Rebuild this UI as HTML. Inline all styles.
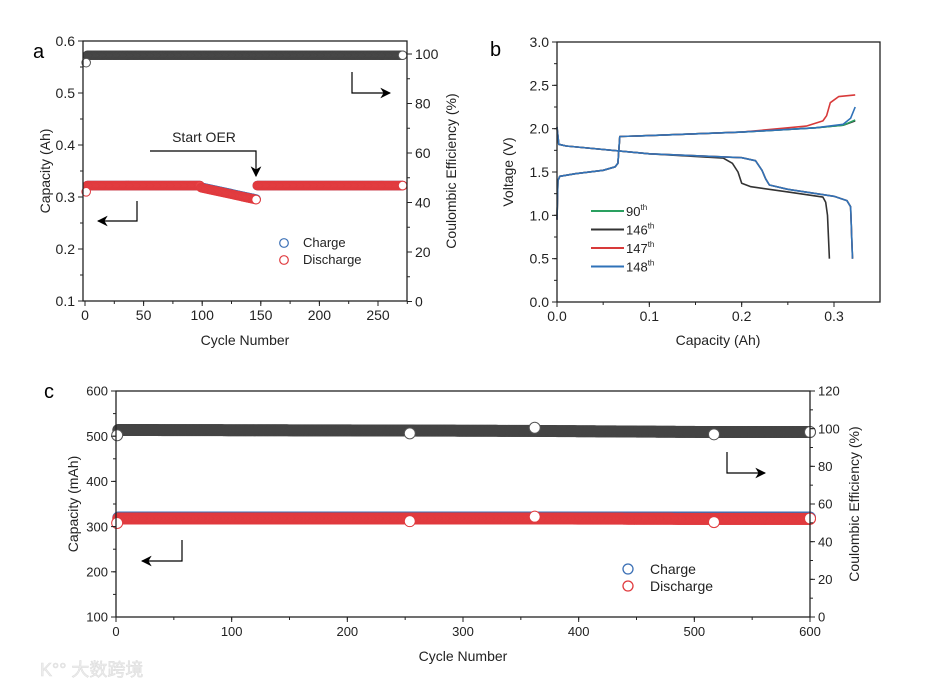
<!DOCTYPE html>
<html><head><meta charset="utf-8">
<style>
html,body{margin:0;padding:0;background:#fff;}
svg{display:block;font-family:"Liberation Sans","Noto Sans CJK SC",sans-serif;}
</style></head>
<body>
<svg id="fig" width="945" height="689" viewBox="0 0 945 689" xmlns="http://www.w3.org/2000/svg">
<defs>
<marker id="ah" viewBox="0 0 10 10" refX="9" refY="5" markerWidth="9" markerHeight="9" orient="auto"><path d="M0,0 L10,5 L0,10 L3,5 z" fill="#000"/></marker>
</defs>
<g id="pa"></g>
<g id="pb"></g>
<g id="pc"></g>
<text x="33" y="58" font-size="20">a</text>
<text x="490" y="56" font-size="20">b</text>
<text x="44" y="398" font-size="20">c</text>
<text x="40" y="676" font-size="18" fill="#eeeeee" stroke="#dddddd" stroke-width="0.6">K°° 大数跨境</text>
</svg>
<script>
// ---------- Panel A data ----------
const aCapCycles = [1, 2, 98, 99, 146, 147, 271];
const aDischarge = [0.310, 0.322, 0.322, 0.318, 0.295, 0.322, 0.322];
const aCharge    = [0.322, 0.322, 0.322, 0.319, 0.296, 0.322, 0.322];
const aCECycles  = [1, 2, 271];
const aCE        = [96.5, 99.5, 99.5];
const aXTicks = [0, 50, 100, 150, 200, 250];
const aYTicks = [0.1, 0.2, 0.3, 0.4, 0.5, 0.6];
const aY2Ticks = [0, 20, 40, 60, 80, 100];
// ---------- Panel B data ----------
const bXTicks = [0.0, 0.1, 0.2, 0.3];
const bYTicks = [0.0, 0.5, 1.0, 1.5, 2.0, 2.5, 3.0];
const chgCap  = [0, 0.001, 0.003, 0.02, 0.05, 0.063, 0.066, 0.068, 0.1, 0.2, 0.28, 0.31, 0.323];
const chg90V  = [0.95, 1.40, 1.45, 1.48, 1.52, 1.56, 1.60, 1.91, 1.92, 1.96, 2.01, 2.04, 2.10];
const chg146V = [0.95, 1.40, 1.45, 1.48, 1.52, 1.56, 1.60, 1.91, 1.92, 1.96, 2.01, 2.04, 2.09];
const chg147Cap = [0, 0.001, 0.003, 0.02, 0.05, 0.063, 0.066, 0.068, 0.1, 0.2, 0.27, 0.288, 0.292, 0.296, 0.305, 0.323];
const chg147V   = [0.95, 1.40, 1.45, 1.48, 1.52, 1.56, 1.60, 1.91, 1.92, 1.96, 2.03, 2.09, 2.15, 2.30, 2.37, 2.39];
const chg148Cap = [0, 0.001, 0.003, 0.02, 0.05, 0.063, 0.066, 0.068, 0.1, 0.2, 0.28, 0.31, 0.318, 0.323];
const chg148V   = [0.95, 1.40, 1.45, 1.48, 1.52, 1.56, 1.60, 1.91, 1.92, 1.96, 2.01, 2.05, 2.12, 2.25];
const disCap  = [0, 0.002, 0.01, 0.1, 0.2, 0.215, 0.222, 0.226, 0.23, 0.25, 0.3, 0.314, 0.318, 0.32];
const disV    = [2.02, 1.82, 1.80, 1.71, 1.665, 1.63, 1.52, 1.42, 1.35, 1.30, 1.22, 1.17, 1.10, 0.50];
const dis146Cap = [0, 0.002, 0.01, 0.1, 0.18, 0.19, 0.196, 0.2, 0.21, 0.25, 0.288, 0.291, 0.293, 0.295];
const dis146V   = [2.00, 1.82, 1.80, 1.71, 1.66, 1.60, 1.50, 1.37, 1.33, 1.27, 1.21, 1.15, 1.00, 0.50];
// ---------- Panel C data ----------
const cCycles    = [1, 2, 254, 362, 517, 600];
const cDischarge = [308, 318, 318, 318, 317, 317];
const cCharge    = [320, 320, 320, 320, 320, 320];
const cCE        = [96.5, 99.3, 99.0, 98.8, 98.2, 98.2];
const cOutCycles = [1, 254, 362, 517, 600];
const cOutCE     = [96.5, 97.5, 100.5, 97.0, 98.2];
const cOutCap    = [308, 312, 322, 310, 318];
const cXTicks = [0, 100, 200, 300, 400, 500, 600];
const cYTicks = [100, 200, 300, 400, 500, 600];
const cY2Ticks = [0, 20, 40, 60, 80, 100, 120];

const NS = "http://www.w3.org/2000/svg";
function mk(parent, tag, attrs) {
  const e = document.createElementNS(NS, tag);
  for (const k in attrs) e.setAttribute(k, attrs[k]);
  parent.appendChild(e);
  return e;
}
function interp(xs, ys, x) {
  for (let i = 0; i < xs.length - 1; i++) {
    if (x >= xs[i] && x <= xs[i + 1]) {
      const t = xs[i + 1] === xs[i] ? 0 : (x - xs[i]) / (xs[i + 1] - xs[i]);
      return ys[i] + t * (ys[i + 1] - ys[i]);
    }
  }
  return ys[ys.length - 1];
}
function lin(d0, d1, p0, p1) { return v => p0 + (v - d0) / (d1 - d0) * (p1 - p0); }

function frame(g, x0, y0, x1, y1, name) {
  const r = mk(g, 'rect', {x: x0, y: y0, width: x1 - x0, height: y1 - y0, fill: 'none', stroke: '#222', 'stroke-width': 1.3});
  
  
}
function xAxis(g, ticks, minorStep, sx, y, fmt, fs, name) {
  const ax = mk(g, 'g', {});
  
  
  const lo = ticks[0], hi = ticks[ticks.length - 1];
  for (let v = lo; v <= hi + 1e-9 + minorStep; v += minorStep) {
    const px = sx(v);
    if (px > sx(hi) + 30) break;
    mk(ax, 'line', {x1: px, y1: y, x2: px, y2: y + 3, stroke: '#222', 'stroke-width': 1});
  }
  ticks.forEach(t => {
    mk(ax, 'line', {x1: sx(t), y1: y, x2: sx(t), y2: y + 5, stroke: '#222', 'stroke-width': 1});
    const tx = mk(ax, 'text', {x: sx(t), y: y + 19, 'font-size': fs, 'text-anchor': 'middle', fill: '#222'});
    tx.textContent = fmt(t);
  });
}
function yAxis(g, ticks, minorStep, sy, x, dir, fmt, fs, name) {
  const ax = mk(g, 'g', {});
  
  
  const lo = ticks[0], hi = ticks[ticks.length - 1];
  for (let v = lo; v <= hi + 1e-9; v += minorStep) {
    mk(ax, 'line', {x1: x, y1: sy(v), x2: x + dir * 3, y2: sy(v), stroke: '#222', 'stroke-width': 1});
  }
  ticks.forEach(t => {
    mk(ax, 'line', {x1: x, y1: sy(t), x2: x + dir * 5, y2: sy(t), stroke: '#222', 'stroke-width': 1});
    const tx = mk(ax, 'text', {x: x + dir * 8, y: sy(t) + fs * 0.36, 'font-size': fs, 'text-anchor': dir < 0 ? 'end' : 'start', fill: '#222'});
    tx.textContent = fmt(t);
  });
}
function label(g, x, y, txt, fs, rot, name, extra) {
  const t = mk(g, 'text', Object.assign({x: x, y: y, 'font-size': fs, 'text-anchor': 'middle', fill: '#222'}, extra || {}));
  if (rot) t.setAttribute('transform', `rotate(${rot} ${x} ${y})`);
  t.textContent = txt;
  
  
}
function arrow(g, pts, name) {
  const p = mk(g, 'polyline', {points: pts.map(q => q.join(',')).join(' '), fill: 'none', stroke: '#000', 'stroke-width': 1.2, 'marker-end': 'url(#ah)'});
  
  
}
function markerRow(g, n0, n1, xs, ys, sx, sy, r, stroke, fill, name) {
  const s = mk(g, 'g', {});
  
  
  for (let c = n0; c <= n1; c++) {
    const v = interp(xs, ys, c);
    mk(s, 'circle', {cx: sx(c), cy: sy(v), r: r, fill: fill, stroke: stroke, 'stroke-width': 1});
  }
  return s;
}

// ===== Panel A =====
(function () {
  const g = document.getElementById('pa');
  const X0 = 83, X1 = 407, Y0 = 41, Y1 = 301;
  const sx = lin(0, 250, 85, 378);
  const sy = lin(0.1, 0.6, Y1, Y0);
  const sy2 = lin(0, 100, 301.5, 54);
  markerRow(g, 2, 271, aCECycles, aCE, sx, sy2, 4.3, '#444', '#555', 'ce-series-a');
  markerRow(g, 2, 271, aCapCycles, aCharge, sx, sy, 4.3, '#3a6fb5', '#3a6fb5', 'charge-series-a');
  markerRow(g, 2, 271, aCapCycles, aDischarge, sx, sy, 4.3, '#e03a3e', '#e8474a', 'discharge-series-a');
  const ends = mk(g, 'g', {});
  
  
  mk(ends, 'circle', {cx: sx(aCECycles[0]), cy: sy2(aCE[0]), r: 4.3, fill: '#fff', stroke: '#555'});
  mk(ends, 'circle', {cx: sx(271), cy: sy2(aCE[aCE.length - 1]), r: 4.3, fill: '#fff', stroke: '#555'});
  mk(ends, 'circle', {cx: sx(aCapCycles[0]), cy: sy(aDischarge[0]), r: 4.3, fill: '#fff', stroke: '#e03a3e'});
  mk(ends, 'circle', {cx: sx(146), cy: sy(aDischarge[4]), r: 4.3, fill: '#fff', stroke: '#e03a3e'});
  mk(ends, 'circle', {cx: sx(271), cy: sy(aDischarge[6]), r: 4.3, fill: '#fff', stroke: '#e03a3e'});
  frame(g, X0, Y0, X1, Y1, 'plot-frame-a');
  xAxis(g, aXTicks, 25, sx, Y1, t => String(t), 14, 'x-axis-a');
  yAxis(g, aYTicks, 0.05, sy, X0, -1, t => t.toFixed(1), 14, 'y-axis-a');
  yAxis(g, aY2Ticks, 10, sy2, X1, 1, t => String(t), 14, 'y2-axis-a');
  label(g, 245, 345, 'Cycle Number', 14, 0, 'x-axis-title-a');
  label(g, 50, 171, 'Capacity (Ah)', 14, -90, 'y-axis-title-a');
  label(g, 456, 171, 'Coulombic Efficiency (%)', 14, -90, 'y2-axis-title-a');
  label(g, 204, 142, 'Start OER', 14, 0, 'start-oer-annotation');
  arrow(g, [[150, 151], [256, 151], [256, 176]], 'start-oer-arrow');
  arrow(g, [[137, 201], [137, 221], [98, 221]], 'left-axis-arrow-a');
  arrow(g, [[352, 72], [352, 93], [390, 93]], 'right-axis-arrow-a');
  const lg = mk(g, 'g', {});
  
  
  mk(lg, 'circle', {cx: 284, cy: 243, r: 4.3, fill: 'none', stroke: '#3a6fb5', 'stroke-width': 1.2});
  mk(lg, 'circle', {cx: 284, cy: 260, r: 4.3, fill: 'none', stroke: '#e03a3e', 'stroke-width': 1.2});
  let t = mk(lg, 'text', {x: 303, y: 247, 'font-size': 13, fill: '#222'}); t.textContent = 'Charge';
  t = mk(lg, 'text', {x: 303, y: 264, 'font-size': 13, fill: '#222'}); t.textContent = 'Discharge';
})();

// ===== Panel B =====
(function () {
  const g = document.getElementById('pb');
  const X0 = 557, X1 = 880, Y0 = 42, Y1 = 302;
  const sx = lin(0, 0.3, 557, 834);
  const sy = lin(0, 3, Y1, Y0);
  function curve(xs, ys, color, name) {
    const d = xs.map((x, i) => (i ? 'L' : 'M') + sx(x).toFixed(1) + ',' + sy(ys[i]).toFixed(1)).join(' ');
    const p = mk(g, 'path', {d: d, fill: 'none', stroke: color, 'stroke-width': 1.6, 'stroke-linejoin': 'round'});
    
    
  }
  curve(chgCap, chg146V, '#333', 'charge-146');
  curve(dis146Cap, dis146V, '#333', 'discharge-146');
  curve(chgCap, chg90V, '#2aa060', 'charge-90');
  curve(disCap, disV, '#2aa060', 'discharge-90');
  curve(chg147Cap, chg147V, '#d83a3a', 'charge-147');
  curve(disCap, disV, '#d83a3a', 'discharge-147');
  curve(chg148Cap, chg148V, '#2f72b8', 'charge-148');
  curve(disCap, disV, '#2f72b8', 'discharge-148');
  frame(g, X0, Y0, X1, Y1, 'plot-frame-b');
  xAxis(g, bXTicks, 0.05, sx, Y1, t => t.toFixed(1), 14, 'x-axis-b');
  yAxis(g, bYTicks, 0.25, sy, X0, -1, t => t.toFixed(1), 14, 'y-axis-b');
  label(g, 718, 345, 'Capacity (Ah)', 14, 0, 'x-axis-title-b');
  label(g, 513, 172, 'Voltage (V)', 14, -90, 'y-axis-title-b');
  const names = ['90', '146', '147', '148'];
  const cols = ['#2aa060', '#333', '#d83a3a', '#2f72b8'];
  const lg = mk(g, 'g', {});
  
  
  names.forEach((n, i) => {
    const y = 211 + i * 18.5;
    mk(lg, 'line', {x1: 591, y1: y, x2: 624, y2: y, stroke: cols[i], 'stroke-width': 2});
    const t = mk(lg, 'text', {x: 626, y: y + 5, 'font-size': 13, fill: '#222'});
    t.textContent = n;
    const s = mk(t, 'tspan', {dy: -6, 'font-size': 8});
    s.textContent = 'th';
  });
})();

// ===== Panel C =====
(function () {
  const g = document.getElementById('pc');
  const X0 = 116, X1 = 810, Y0 = 391, Y1 = 617;
  const sx = lin(0, 600, 116, 810);
  const sy = lin(100, 600, Y1, Y0);
  const sy2 = lin(0, 120, Y1, Y0);
  markerRow(g, 2, 600, cCycles, cCE, sx, sy2, 5.5, '#444', '#4a4a4a', 'ce-series-c');
  markerRow(g, 2, 600, cCycles, cCharge, sx, sy, 5.5, '#3a6fb5', '#3a6fb5', 'charge-series-c');
  markerRow(g, 2, 600, cCycles, cDischarge, sx, sy, 5.5, '#e03a3e', '#ec4448', 'discharge-series-c');
  const o = mk(g, 'g', {});
  
  
  cOutCycles.forEach((c, i) => {
    mk(o, 'circle', {cx: sx(c), cy: sy2(cOutCE[i]), r: 5.5, fill: '#fff', stroke: '#555'});
    mk(o, 'circle', {cx: sx(c), cy: sy(cOutCap[i]), r: 5.5, fill: '#fff', stroke: '#e03a3e'});
  });
  frame(g, X0, Y0, X1, Y1, 'plot-frame-c');
  xAxis(g, cXTicks, 50, sx, Y1, t => String(t), 13, 'x-axis-c');
  yAxis(g, cYTicks, 50, sy, X0, -1, t => String(t), 13, 'y-axis-c');
  yAxis(g, cY2Ticks, 10, sy2, X1, 1, t => String(t), 13, 'y2-axis-c');
  label(g, 463, 661, 'Cycle Number', 14, 0, 'x-axis-title-c');
  label(g, 78, 504, 'Capacity (mAh)', 14, -90, 'y-axis-title-c');
  label(g, 859, 504, 'Coulombic Efficiency (%)', 14, -90, 'y2-axis-title-c');
  arrow(g, [[182, 540], [182, 561], [142, 561]], 'left-axis-arrow-c');
  arrow(g, [[727, 452], [727, 473], [765, 473]], 'right-axis-arrow-c');
  const lg = mk(g, 'g', {});
  
  
  mk(lg, 'circle', {cx: 628, cy: 569, r: 5, fill: 'none', stroke: '#3a6fb5', 'stroke-width': 1.3});
  mk(lg, 'circle', {cx: 628, cy: 586, r: 5, fill: 'none', stroke: '#e03a3e', 'stroke-width': 1.3});
  let t = mk(lg, 'text', {x: 650, y: 574, 'font-size': 14, fill: '#222'}); t.textContent = 'Charge';
  t = mk(lg, 'text', {x: 650, y: 591, 'font-size': 14, fill: '#222'}); t.textContent = 'Discharge';
})();
</script>
</body></html>
